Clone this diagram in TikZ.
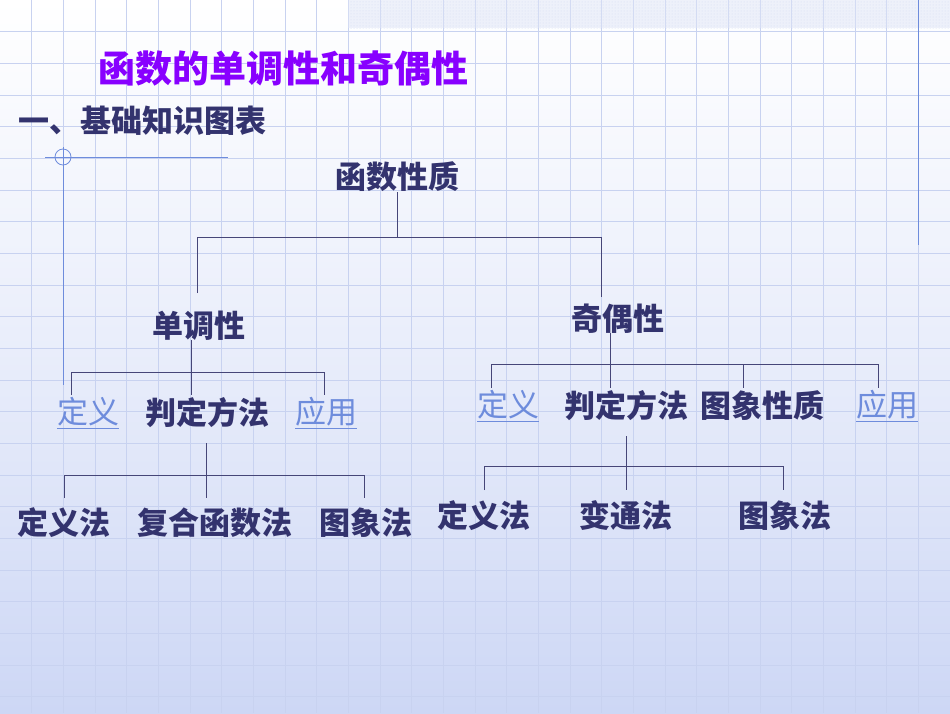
\documentclass[tikz,border=0pt]{standalone}
\usepackage{fontspec}
\setmainfont{Noto Sans CJK SC}
\usetikzlibrary{patterns}
\definecolor{txt}{RGB}{51,51,110}
\definecolor{ttl}{RGB}{136,0,255}
\definecolor{lnk}{RGB}{110,140,220}
\definecolor{grd}{RGB}{200,210,240}
\definecolor{bgb}{RGB}{205,215,245}
\definecolor{ln}{RGB}{70,70,120}
\begin{document}
\begin{tikzpicture}[x=1pt,y=-1pt,
  lbl/.style={text=txt,font=\fontsize{31}{34}\selectfont\bfseries,inner sep=0pt},
  lnklbl/.style={text=lnk,font=\fontsize{31}{34}\selectfont,inner sep=0pt},
  conn/.style={draw=ln,line width=0.8pt}]
\useasboundingbox (0,0) rectangle (950,713);
\shade[top color=white,bottom color=bgb,middle color=white!55!bgb] (0,0) rectangle (950,713);
\foreach \i in {1,...,29} \draw[grd,line width=0.8pt] (\i*31.67,0) -- (\i*31.67,713);
\foreach \j in {1,...,22} \draw[grd,line width=0.8pt] (0,\j*31.67) -- (950,\j*31.67);
\fill[pattern=dots,pattern color=grd] (348,0) rectangle (950,28);
\fill[white!40!grd,opacity=0.5] (348,0) rectangle (950,28);
\draw[lnk,line width=1pt] (918,0) -- (918,245);
\draw[lnk,line width=0.8pt] (45,157) -- (228,157);
\draw[lnk,line width=0.8pt] (63,147) -- (63,385);
\draw[lnk,line width=0.8pt] (63,157) circle (8);
\node[text=ttl,font=\fontsize{37}{40}\selectfont\bfseries,inner sep=0pt] (title) at (283,69) {函数的单调性和奇偶性};
\node[lbl,font=\fontsize{31}{34}\selectfont\bfseries,anchor=west] (sub) at (18,121) {一、基础知识图表};
\node[lbl] (root) at (397,177) {函数性质};
\node[lbl] (mono) at (199,326) {单调性};
\node[lbl] (par) at (618,319) {奇偶性};
\node[lnklbl] (ldef) at (88,413) {\underline{定义}};
\node[lbl] (ljd) at (207,413) {判定方法};
\node[lnklbl] (lapp) at (326,413) {\underline{应用}};
\node[lnklbl] (rdef) at (508,406) {\underline{定义}};
\node[lbl] (rjd) at (626,406) {判定方法};
\node[lbl] (rtx) at (762,406) {图象性质};
\node[lnklbl] (rapp) at (887,406) {\underline{应用}};
\node[lbl] (l1) at (64,523) {定义法};
\node[lbl] (l2) at (215,523) {复合函数法};
\node[lbl] (l3) at (366,523) {图象法};
\node[lbl] (r1) at (484,516) {定义法};
\node[lbl] (r2) at (626,516) {变通法};
\node[lbl] (r3) at (785,516) {图象法};
% top
\draw[conn] (397,192) -- (397,237);
\draw[conn] (197,293) -- (197,237) -- (601,237) -- (601,297);
% left
\draw[conn] (191,340) -- (191,395);
\draw[conn] (71,395) -- (71,372) -- (324,372) -- (324,395);
\draw[conn] (206,443) -- (206,498);
\draw[conn] (64,498) -- (64,475) -- (364,475) -- (364,498);
% right
\draw[conn] (610,333) -- (610,388);
\draw[conn] (491,388) -- (491,364) -- (878,364) -- (878,388);
\draw[conn] (743,364) -- (743,388);
\draw[conn] (626,436) -- (626,490);
\draw[conn] (484,490) -- (484,466) -- (783,466) -- (783,490);
\end{tikzpicture}
\end{document}
